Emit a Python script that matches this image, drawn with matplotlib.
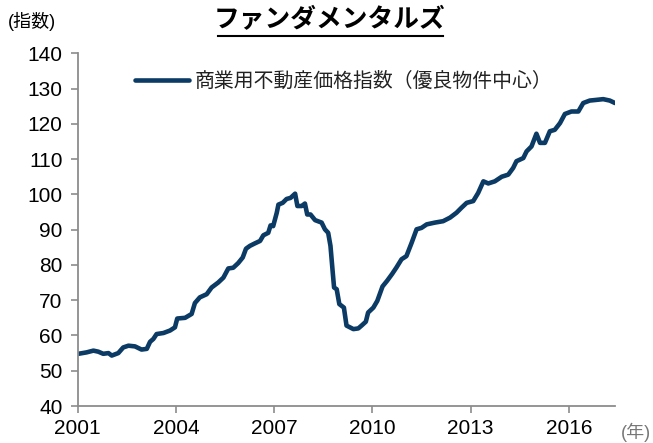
import matplotlib
matplotlib.use("Agg")
import matplotlib.pyplot as plt

plt.rcParams["font.family"] = ["Liberation Sans", "Noto Sans CJK JP"]

# 商業用不動産価格指数
years = [
    2001.02, 2001.27, 2001.48, 2001.63, 2001.78, 2001.94, 2002.04, 2002.24,
    2002.39, 2002.55, 2002.75, 2002.95, 2003.11, 2003.21, 2003.31, 2003.41,
    2003.62, 2003.82, 2003.97, 2004.04, 2004.28, 2004.48, 2004.58, 2004.73,
    2004.94, 2005.09, 2005.29, 2005.45, 2005.60, 2005.75, 2005.90, 2006.04,
    2006.14, 2006.26, 2006.41, 2006.57, 2006.67, 2006.82, 2006.89, 2006.97,
    2007.08, 2007.13, 2007.26, 2007.38, 2007.50, 2007.64, 2007.71, 2007.84,
    2007.94, 2008.01, 2008.11, 2008.25, 2008.45, 2008.55, 2008.65, 2008.72,
    2008.79, 2008.83, 2008.91, 2008.99, 2009.13, 2009.21, 2009.42, 2009.57,
    2009.67, 2009.80, 2009.87, 2010.03, 2010.15, 2010.31, 2010.45, 2010.60,
    2010.73, 2010.89, 2011.04, 2011.20, 2011.35, 2011.50, 2011.66, 2011.91,
    2012.16, 2012.37, 2012.57, 2012.72, 2012.88, 2013.08, 2013.23, 2013.39,
    2013.54, 2013.74, 2013.95, 2014.15, 2014.30, 2014.40, 2014.61, 2014.71,
    2014.86, 2015.01, 2015.12, 2015.27, 2015.42, 2015.57, 2015.73, 2015.88,
    2016.08, 2016.29, 2016.44, 2016.64, 2016.85, 2017.05, 2017.25, 2017.41,
]
index_values = [
    54.8, 55.2, 55.7, 55.4, 54.8, 55.0, 54.3, 55.0,
    56.6, 57.1, 56.9, 56.0, 56.2, 58.2, 59.0, 60.4,
    60.7, 61.4, 62.3, 64.8, 65.0, 66.1, 69.2, 70.8,
    71.7, 73.6, 75.0, 76.4, 79.0, 79.2, 80.5, 82.1,
    84.6, 85.4, 86.1, 86.8, 88.4, 89.1, 91.2, 91.0,
    94.8, 97.1, 97.6, 98.7, 99.0, 100.2, 96.7, 96.7,
    97.4, 94.3, 94.3, 92.7, 92.0, 90.1, 89.1, 85.4,
    77.8, 73.6, 73.1, 68.9, 67.9, 62.8, 61.8, 62.0,
    62.8, 63.9, 66.5, 67.9, 69.8, 73.9, 75.5, 77.4,
    79.2, 81.6, 82.5, 86.3, 90.1, 90.5, 91.5, 92.0,
    92.4, 93.4, 94.8, 96.2, 97.6, 98.1, 100.4, 103.7,
    103.1, 103.7, 105.0, 105.6, 107.5, 109.4, 110.3, 112.2,
    113.6, 117.2, 114.6, 114.6, 117.9, 118.3, 120.2, 122.8,
    123.5, 123.5, 125.9, 126.6, 126.8, 127.0, 126.6, 125.9,
]
series_label = "商業用不動産価格指数（優良物件中心）"
x_ticks = [2001, 2004, 2007, 2010, 2013, 2016]
y_ticks = list(range(40, 141, 10))

W, H = 653, 443
fig = plt.figure(figsize=(W / 100, H / 100), dpi=100)
ax = fig.add_axes([77.7 / W, 1 - 406 / H, (615 - 77.7) / W, (406 - 53.3) / H])

line_color = "#0b3a64"
axis_color = "#8c8c8c"

ax.plot(years, index_values, color=line_color, linewidth=3.3,
        solid_joinstyle="round", solid_capstyle="round", label=series_label)

ax.set_xlim(2001, 2017.41)
ax.set_ylim(40, 140)
ax.set_xticks(x_ticks)
ax.set_yticks(y_ticks)
ax.tick_params(axis="both", direction="out", length=5, width=1.2,
               color=axis_color, labelsize=15, labelcolor="black")
ax.tick_params(axis="y", pad=6)
ax.tick_params(axis="x", pad=4)

for side in ["top", "right"]:
    ax.spines[side].set_visible(False)
for side in ["left", "bottom"]:
    ax.spines[side].set_color(axis_color)
    ax.spines[side].set_linewidth(1.3)

leg = ax.legend(loc="center left", bbox_to_anchor=(135 / W, 1 - 81 / H),
                bbox_transform=fig.transFigure, frameon=False, fontsize=14.3,
                handlelength=2.7, handletextpad=0.3, borderpad=0, borderaxespad=0)
for t in leg.get_texts():
    t.set_color("#222222")

# title with underline
fig.text(330 / W, 1 - 20 / H, "ファンダメンタルズ", ha="center", va="center",
         fontsize=18.5, fontweight="bold", color="black")
fig.add_artist(plt.Line2D([218 / W, 443 / W], [1 - 36 / H, 1 - 36 / H],
                          transform=fig.transFigure, color="black", linewidth=1.5))

fig.text(8 / W, 1 - 21 / H, "(指数)", ha="left", va="center", fontsize=13,
         color="black")
fig.text(651 / W, 1 - 432 / H, "(年)", ha="right", va="center", fontsize=13,
         color="#777777")

fig.savefig("out.png", dpi=100)
plt.close(fig)
